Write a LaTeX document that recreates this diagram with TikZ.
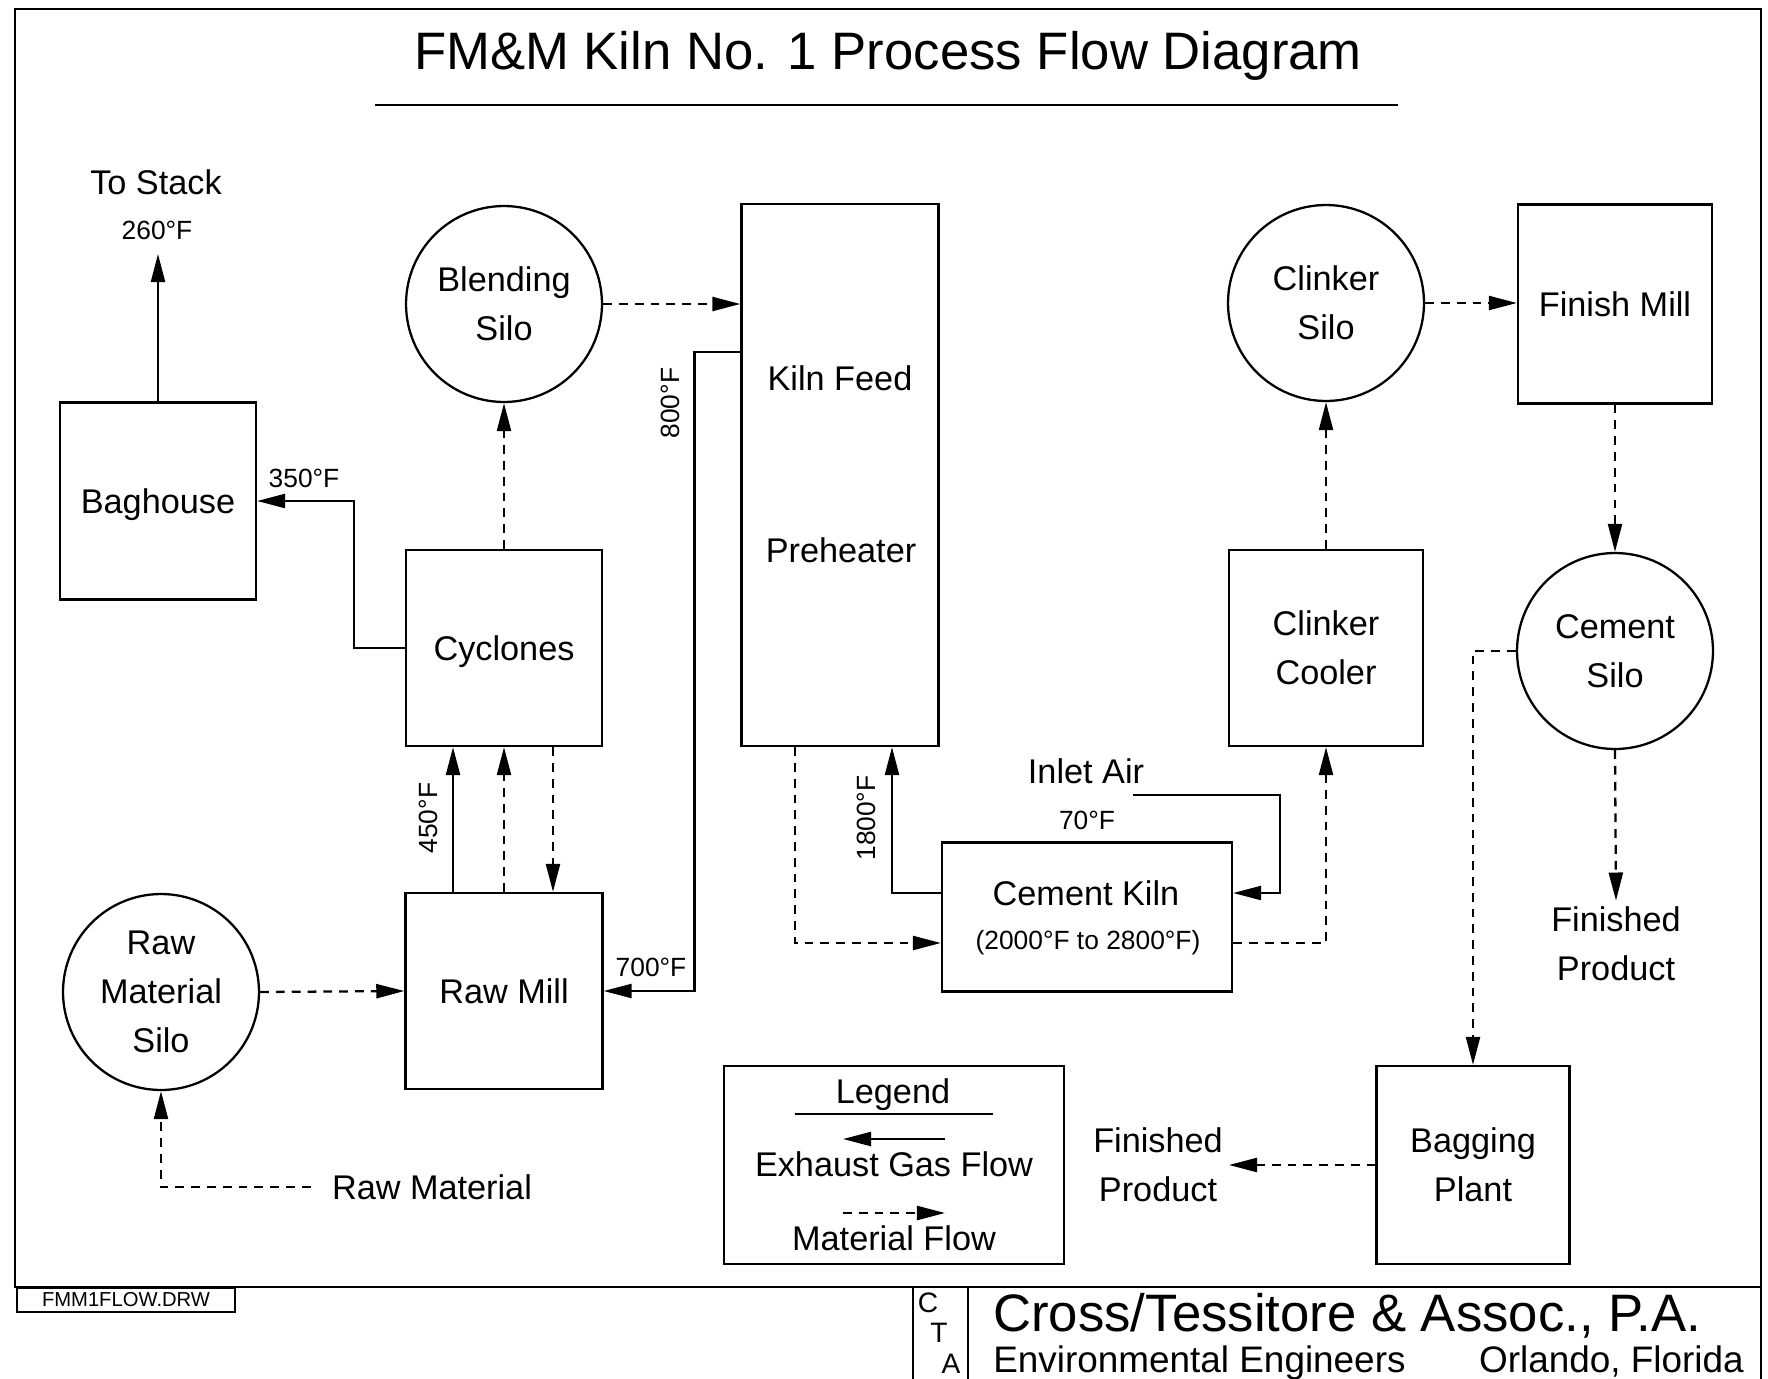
\documentclass[tikz,border=0pt]{standalone}
\usepackage{fontspec}
\setmainfont{Liberation Sans}
\usetikzlibrary{arrows.meta}
\begin{document}
\begin{tikzpicture}[x={(0.02cm,0)}, y={(0,-0.02cm)},
  every node/.style={font=\fontsize{19.5}{28}\selectfont, align=center},
  box/.style={draw, line width=1.3pt, inner sep=0pt},
  silo/.style={draw, circle, line width=1.3pt, minimum size=3.92cm, inner sep=0pt},
  gas/.style={line width=1.3pt, -{Triangle[length=16pt,width=8pt]}},
  mat/.style={line width=1.3pt, dash pattern=on 5pt off 4pt, -{Triangle[length=16pt,width=8pt]}},
  temp/.style={font=\fontsize{15}{18}\selectfont},
  cta/.style={font=\fontsize{16}{17}\selectfont, inner sep=0pt},
  frameline/.style={line width=1.3pt}
]
\useasboundingbox (0,0) rectangle (1768,1379);

% frame and title block
\draw[frameline] (15,9) rectangle (1761,1287);
\draw[frameline] (1761,1287) -- (1761,1379);
\draw[frameline] (913,1287) -- (913,1379);
\draw[frameline] (968,1287) -- (968,1379);
\node[draw, line width=1.1pt, minimum width=4.36cm, minimum height=0.48cm, inner sep=0pt,
      font=\fontsize{11.5}{12}\selectfont] (file) at (126,1300) {FMM1FLOW.DRW};
\node[cta] (lc) at (928,1303) {C};
\node[cta] (lt) at (939,1333) {T};
\node[cta] (la) at (951,1364) {A};
\node[anchor=base west, inner sep=0pt, font=\fontsize{30}{31}\selectfont] (firm) at (993,1331) {Cross/Tessitore \& Assoc., P.A.};
\node[anchor=base west, inner sep=0pt, font=\fontsize{21}{22}\selectfont] (env) at (993,1372) {Environmental Engineers};
\node[anchor=base east, inner sep=0pt, font=\fontsize{21}{22}\selectfont] (city) at (1744,1372) {Orlando, Florida};

% title
\node[anchor=base, inner sep=0pt, font=\fontsize{30}{34}\selectfont] (title) at (888,69) {FM\&M Kiln No. 1 Process Flow Diagram};
\coordinate (ula) at (375,105);
\coordinate (ulb) at (1398,105);
\draw[line width=1.6pt] (ula) -- (ulb);

% equipment
\node[box, minimum width=3.92cm, minimum height=3.94cm, text depth=0pt] (bag) at (158,501) {Baghouse};
\node[box, minimum width=3.92cm, minimum height=3.92cm, text depth=0pt] (cyc) at (504,648) {Cyclones};
\node[box, minimum width=3.94cm, minimum height=3.92cm] (mill) at (504,991) {Raw Mill};
\node[silo] (blend) at (504,304) {Blending\\Silo};
\node[silo] (rms) at (161,992) {Raw\\Material\\Silo};
\node[box, minimum width=3.94cm, minimum height=10.84cm] (pre) at (840,475) {};
\node (kf) at (840,378) {Kiln Feed};
\node (ph) at (841,550) {Preheater};
\node[box, minimum width=5.8cm, minimum height=2.98cm] (kiln) at (1087,917) {};
\node (kt) at (1086,893) {Cement Kiln};
\node[temp] (kr) at (1088,943) {(2000°F to 2800°F)};
\node[box, minimum width=3.88cm, minimum height=3.92cm] (cool) at (1326,648) {Clinker\\Cooler};
\node[silo] (csilo) at (1326,303) {Clinker\\Silo};
\node[box, minimum width=3.88cm, minimum height=3.98cm] (fmill) at (1615,304) {Finish Mill};
\node[silo] (cems) at (1615,651) {Cement\\Silo};
\node (fp1) at (1616,944) {Finished\\Product};
\node[box, minimum width=3.86cm, minimum height=3.96cm] (bagp) at (1473,1165) {Bagging\\Plant};
\node (fp2) at (1158,1165) {Finished\\Product};

% labels
\node (stack) at (156,182) {To Stack};
\node[temp] (t260) at (157,230) {260°F};
\coordinate (stackin) at (158,254);
\node[temp] (t350) at (304,478) {350°F};
\node[temp, rotate=90] (t800) at (670,403) {800°F};
\node[temp] (t700) at (651,967) {700°F};
\node[temp, rotate=90] (t450) at (428,818) {450°F};
\node[temp, rotate=90] (t1800) at (866,818) {1800°F};
\node (inlet) at (1086,771) {Inlet Air};
\node[temp] (t70) at (1087,820) {70°F};
\coordinate (air) at (1133,795);
\node[inner xsep=12pt] (rawmat) at (432,1187) {Raw Material};

% exhaust gas flows
\draw[gas] (bag.north) -- (stackin);
\draw[gas] (cyc.west) -- ++(-51,0) |- (bag.east);
\draw[gas] ([yshift=-2.98cm]pre.north west) -- ++(-46,0) |- (mill.east);
\draw[gas] ([xshift=-1.02cm]mill.north) -- ([xshift=-1.02cm]cyc.south);
\draw[gas] ([yshift=0.48cm]kiln.west) -| ([xshift=1.04cm]pre.south);
\draw[gas] (air) -- ++(147,0) |- ([yshift=0.48cm]kiln.east);

% material flows
\draw[mat] (cyc.north) -- (blend.south);
\draw[mat] (blend.east) -- (blend.east -| pre.west);
\draw[mat] (mill.north) -- (cyc.south);
\draw[mat] ([xshift=0.98cm]cyc.south) -- ([xshift=0.98cm]mill.north);
\draw[mat] (rms.east) -- (mill.west);
\draw[mat] (rawmat.west) -| (rms.south);
\draw[mat] ([xshift=-0.9cm]pre.south) |- ([yshift=-0.52cm]kiln.west);
\draw[mat] ([yshift=-0.52cm]kiln.east) -| (cool.south);
\draw[mat] (cool.north) -- (csilo.south);
\draw[mat] (csilo.east) -- (csilo.east -| fmill.west);
\draw[mat] (fmill.south) -- (cems.north);
\draw[mat] (cems.south) -- (fp1.north);
\draw[mat] (cems.west) -| (bagp.north);
\draw[mat] (bagp.west) -- (fp2.east);

% legend
\node[box, minimum width=6.8cm, minimum height=3.96cm] (leg) at (894,1165) {};
\node (legt) at (893,1095) {Legend};
\coordinate (lua) at (795,1114);
\coordinate (lub) at (993,1114);
\draw[line width=1.3pt] (lua) -- (lub);
\coordinate (lga) at (945,1139);
\coordinate (lgb) at (843,1139);
\draw[gas] (lga) -- (lgb);
\node (legg) at (894,1164) {Exhaust Gas Flow};
\coordinate (lma) at (843,1213);
\coordinate (lmb) at (945,1213);
\draw[mat] (lma) -- (lmb);
\node (legm) at (894,1238) {Material Flow};
\end{tikzpicture}
\end{document}
